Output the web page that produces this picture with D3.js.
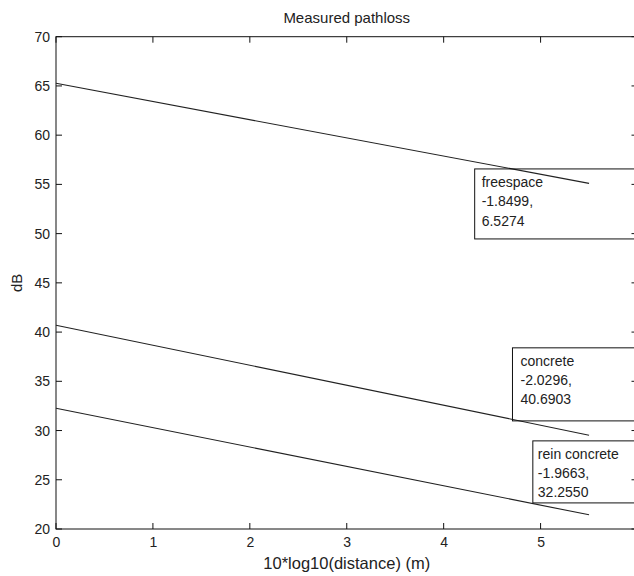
<!DOCTYPE html>
<html><head><meta charset="utf-8">
<script src="https://cdn.jsdelivr.net/npm/d3@7"></script>
<style>body{margin:0;background:#fff}svg{display:block}text{font-family:"Liberation Sans",Arial,sans-serif;fill:#222}</style>
</head><body><svg id="c" width="634" height="576"></svg>
<script>
// data
const xValues = [0, 5.5];
const seriesNames = ["freespace", "concrete", "rein concrete"];
const freespace = [65.27, 55.10];
const concrete = [40.69, 29.53];
const reinConcrete = [32.26, 21.44];
const slopes = ["-1.8499,", "-2.0296,", "-1.9663,"];
const intercepts = ["6.5274", "40.6903", "32.2550"];
const xTicks = [0, 1, 2, 3, 4, 5, 6];
const xTickLabels = ["0", "1", "2", "3", "4", "5", ""];
const yTicks = [20, 25, 30, 35, 40, 45, 50, 55, 60, 65, 70];

// layout (annotation boxes in data coordinates)
const boxes = [
  {x: 4.32, top: 56.57, bottom: 49.46, pad: 7},
  {x: 4.71, top: 38.4, bottom: 30.98, pad: 8},
  {x: 4.92, top: 28.95, bottom: 22.65, pad: 5}
];

const svg = d3.select("#c");
const L = 56, R = 637.5, T = 36.7, B = 529;
const x = d3.scaleLinear().domain([0, 6]).range([L, R]);
const y = d3.scaleLinear().domain([20, 70]).range([B, T]);

const g = svg.append("g");
const axColor = "#111";
g.append("rect").attr("x", L).attr("y", T).attr("width", R - L).attr("height", B - T)
  .attr("fill", "none").attr("stroke", axColor).attr("stroke-width", 1);

const tl = 6;
const bottom = d3.axisBottom(x).tickValues(xTicks).tickSize(0).tickPadding(8)
  .tickFormat((d, i) => xTickLabels[i]);
const gb = g.append("g").attr("transform", `translate(0,${B})`).call(bottom);
gb.select(".domain").remove();
gb.selectAll("text").style("font-size", "14px").attr("fill", "#222");
xTicks.forEach(t => {
  g.append("line").attr("x1", x(t)).attr("x2", x(t)).attr("y1", B).attr("y2", B - tl).attr("stroke", axColor);
  g.append("line").attr("x1", x(t)).attr("x2", x(t)).attr("y1", T).attr("y2", T + tl).attr("stroke", axColor);
});
const left = d3.axisLeft(y).tickValues(yTicks).tickSize(0).tickPadding(6).tickFormat(d3.format("d"));
const gl = g.append("g").attr("transform", `translate(${L},0)`).call(left);
gl.select(".domain").remove();
gl.selectAll("text").style("font-size", "14px").attr("fill", "#222");
yTicks.forEach(t => {
  g.append("line").attr("x1", L).attr("x2", L + tl).attr("y1", y(t)).attr("y2", y(t)).attr("stroke", axColor);
  g.append("line").attr("x1", R).attr("x2", R - tl).attr("y1", y(t)).attr("y2", y(t)).attr("stroke", axColor);
});

// lines
const line = d3.line().x((d, i) => x(xValues[i])).y(d => y(d));
[freespace, concrete, reinConcrete].forEach(s => {
  g.append("path").datum(s).attr("d", line).attr("fill", "none").attr("stroke", "#222").attr("stroke-width", 1.1);
});

// annotations
boxes.forEach((b, i) => {
  const bx = x(b.x), by = y(b.top), bh = y(b.bottom) - y(b.top);
  g.append("rect").attr("x", bx).attr("y", by).attr("width", 200).attr("height", bh)
    .attr("fill", "none").attr("stroke", axColor).attr("stroke-width", 1);
  const lines = [seriesNames[i], slopes[i], intercepts[i]];
  lines.forEach((t, k) => {
    g.append("text").attr("x", bx + b.pad).attr("y", by + 18 + k * 19.3)
      .style("font-size", "14px").text(t);
  });
});

// labels
svg.append("text").attr("x", (L + R) / 2).attr("y", 23).attr("text-anchor", "middle")
  .style("font-size", "15px").text("Measured pathloss");
svg.append("text").attr("x", (L + R) / 2).attr("y", 569).attr("text-anchor", "middle")
  .style("font-size", "16.5px").text("10*log10(distance) (m)");
svg.append("text").attr("transform", `translate(22,${(T + B) / 2}) rotate(-90)`).attr("text-anchor", "middle")
  .style("font-size", "15px").text("dB");
</script></body></html>
